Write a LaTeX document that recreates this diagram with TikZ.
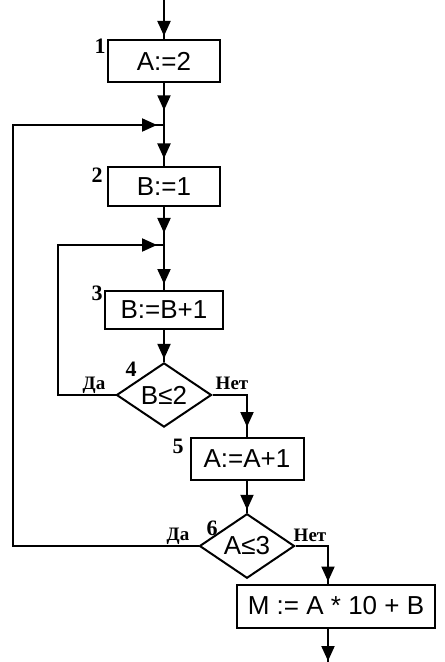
\documentclass[tikz,border=0pt]{standalone}
\usepackage{fontspec}
\setmainfont{Liberation Serif}
\newfontfamily\boxfont{Liberation Sans}
\usetikzlibrary{shapes.geometric,arrows.meta,decorations.markings}
\begin{document}
\begin{tikzpicture}[x=0.5pt,y=-0.5pt,
    flowBox/.style={draw,line width=1pt,rectangle,inner sep=0pt,font=\boxfont\fontsize{13}{15}\selectfont},
    flowDiam/.style={draw,line width=1pt,diamond,inner sep=0pt,font=\boxfont\fontsize{13}{15}\selectfont},
    flowLine/.style={line width=1pt},
    flowArrAt/.style={postaction={decorate},decoration={markings,mark=at position #1 with {\arrow{Triangle[length=7.5pt,width=6.5pt]}}}},
    flowNum/.style={font=\bfseries\fontsize{11}{13}\selectfont},
    flowLbl/.style={font=\bfseries\fontsize{9.5}{11}\selectfont},
]
\useasboundingbox (0,0) rectangle (444,662);
% Blocks
\node[flowBox,minimum width=56pt,minimum height=21pt] (b1) at (164,61) {A:=2};
\node[flowBox,minimum width=56pt,minimum height=19.5pt] (b2) at (164,187) {B:=1};
\node[flowBox,minimum width=59pt,minimum height=19pt] (b3) at (164,310) {B:=B+1};
\node[flowDiam,minimum width=47.5pt,minimum height=28.5pt] (d4) at (164,395) {B≤2};
\node[flowBox,minimum width=56.5pt,minimum height=21pt] (b5) at (247,459) {A:=A+1};
\node[flowDiam,minimum width=47.5pt,minimum height=26pt] (d6) at (247,546) {A≤3};
\node[flowBox,minimum width=99pt,minimum height=21.5pt] (b7) at (336,606) {M := A * 10 + B};
% Turning points
\coordinate (in) at (164,0);
\coordinate (j1) at (164,125);
\coordinate (j2) at (164,245);
\coordinate (r4) at (247,395);
\coordinate (r6) at (328,546);
\coordinate (l4) at (58,395);
\coordinate (l6) at (13,546);
\coordinate (out) at (328,662);
% Connectors
\draw[flowLine,flowArrAt=-1.5pt] (in) -- (b1);
\draw[flowLine,flowArrAt=0.65] (b1) -- (j1);
\draw[flowLine,flowArrAt=-4pt] (j1) -- (b2);
\draw[flowLine,flowArrAt=0.68] (b2) -- (j2);
\draw[flowLine,flowArrAt=-3pt] (j2) -- (b3);
\draw[flowLine,flowArrAt=-1.5pt] (b3) -- (d4);
\draw[flowLine,flowArrAt=-5pt] (d4.east) -- (r4) -- (b5);
\draw[flowLine,flowArrAt=-1.5pt] (b5) -- (d6);
\draw[flowLine,flowArrAt=-1pt] (d6.east) -- (r6) -- (r6 |- b7.north);
\draw[flowLine,flowArrAt=-0.5pt] (r6 |- b7.south) -- (out);
% Loops back
\draw[flowLine,flowArrAt=-3.5pt] (d4.west) -- (l4) |- (j2);
\draw[flowLine,flowArrAt=-3.5pt] (d6.west) -- (l6) |- (j1);
% Block numbers
\node[flowNum] (n1) at (100,46) {1};
\node[flowNum] (n2) at (97,175) {2};
\node[flowNum] (n3) at (97,293) {3};
\node[flowNum] (n4) at (131,369) {4};
\node[flowNum] (n5) at (178,446) {5};
\node[flowNum] (n6) at (212,528) {6};
% Branch labels
\node[flowLbl] (y4) at (94,385) {Да};
\node[flowLbl] (no4) at (232,383) {Нет};
\node[flowLbl] (y6) at (178,536) {Да};
\node[flowLbl] (no6) at (310,535) {Нет};
\end{tikzpicture}
\end{document}
